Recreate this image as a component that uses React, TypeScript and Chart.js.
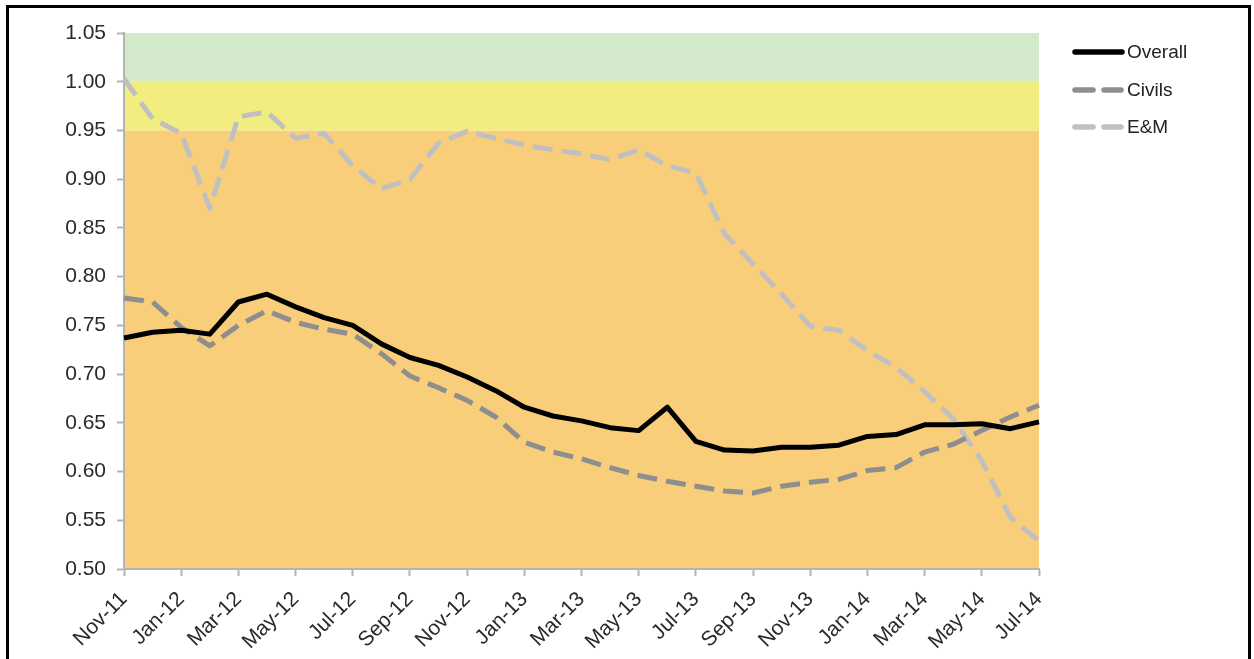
import React, { useEffect, useRef } from 'react';
import { Chart, registerables } from 'chart.js';

Chart.register(...registerables);

const months = [
  'Nov-11', 'Dec-11', 'Jan-12', 'Feb-12', 'Mar-12', 'Apr-12', 'May-12', 'Jun-12', 'Jul-12', 'Aug-12', 'Sep-12',
  'Oct-12', 'Nov-12', 'Dec-12', 'Jan-13', 'Feb-13', 'Mar-13', 'Apr-13', 'May-13', 'Jun-13', 'Jul-13', 'Aug-13',
  'Sep-13', 'Oct-13', 'Nov-13', 'Dec-13', 'Jan-14', 'Feb-14', 'Mar-14', 'Apr-14', 'May-14', 'Jun-14', 'Jul-14',
];

const overall = [
  0.737, 0.743, 0.745, 0.741, 0.774, 0.782, 0.769, 0.758, 0.750, 0.731, 0.717,
  0.709, 0.697, 0.683, 0.666, 0.657, 0.652, 0.645, 0.642, 0.666, 0.631, 0.622,
  0.621, 0.625, 0.625, 0.627, 0.636, 0.638, 0.648, 0.648, 0.649, 0.644, 0.651,
];

const civils = [
  0.778, 0.774, 0.748, 0.729, 0.750, 0.765, 0.753, 0.746, 0.741, 0.721, 0.698,
  0.686, 0.673, 0.656, 0.630, 0.620, 0.613, 0.604, 0.596, 0.590, 0.585, 0.580,
  0.578, 0.585, 0.589, 0.592, 0.601, 0.604, 0.620, 0.628, 0.642, 0.656, 0.668,
];

const em = [
  1.003, 0.962, 0.947, 0.870, 0.964, 0.969, 0.942, 0.947, 0.914, 0.890, 0.900,
  0.937, 0.949, 0.942, 0.935, 0.930, 0.926, 0.920, 0.930, 0.914, 0.906, 0.844,
  0.813, 0.782, 0.749, 0.745, 0.724, 0.707, 0.682, 0.654, 0.611, 0.553, 0.529,
];

const seriesNames = ['Overall', 'Civils', 'E&M'];
const seriesColors = ['#000000', '#8e8e8e', '#c0c0c0'];
const seriesDashes: number[][] = [[], [20, 9], [20, 9]];

const bandFrom = [0.5, 0.95, 1.0];
const bandTo = [0.95, 1.0, 1.05];
const bandColors = ['#f8ce7b', '#f2ed7f', '#d3e9cb'];

const yMin = 0.5;
const yMax = 1.05;
const yStep = 0.05;

const FONT = '"Liberation Sans", Arial, Helvetica, sans-serif';

const bandPlugin = {
  id: 'bands',
  beforeDraw(chart: any) {
    const { ctx, chartArea, scales } = chart;
    const y = scales.y;
    ctx.save();
    for (let i = 0; i < bandFrom.length; i++) {
      const top = y.getPixelForValue(bandTo[i]);
      const bottom = y.getPixelForValue(bandFrom[i]);
      ctx.fillStyle = bandColors[i];
      ctx.fillRect(chartArea.left, top, chartArea.right - chartArea.left, bottom - top);
    }
    ctx.restore();
  },
};

const legendPlugin = {
  id: 'customLegend',
  afterDraw(chart: any) {
    const { ctx } = chart;
    const x0 = 1073;
    const x1 = 1124;
    const ys = [52, 90, 127];
    ctx.save();
    for (let i = 0; i < seriesNames.length; i++) {
      const yy = ys[i];
      ctx.strokeStyle = seriesColors[i];
      ctx.lineWidth = 5.5;
      ctx.lineCap = 'round';
      if (i === 0) {
        ctx.beginPath();
        ctx.moveTo(x0 + 2, yy);
        ctx.lineTo(x1 - 2, yy);
        ctx.stroke();
      } else {
        ctx.beginPath();
        ctx.moveTo(x0 + 2, yy);
        ctx.lineTo(x0 + 20, yy);
        ctx.moveTo(x0 + 31, yy);
        ctx.lineTo(x0 + 48, yy);
        ctx.stroke();
      }
      ctx.fillStyle = '#222';
      ctx.font = `19px ${FONT}`;
      ctx.textAlign = 'left';
      ctx.textBaseline = 'middle';
      ctx.fillText(seriesNames[i], x1 + 3, yy + 1);
    }
    ctx.restore();
  },
};

export default function App() {
  const canvasRef = useRef<HTMLCanvasElement | null>(null);

  useEffect(() => {
    if (!canvasRef.current) return;
    const seriesData = [overall, civils, em];
    const chart = new Chart(canvasRef.current, {
      type: 'line',
      data: {
        labels: months,
        datasets: seriesNames.map((name, i) => ({
          label: name,
          data: seriesData[i],
          borderColor: seriesColors[i],
          backgroundColor: seriesColors[i],
          borderWidth: 5,
          borderDash: seriesDashes[i],
          borderCapStyle: 'butt',
          borderJoinStyle: 'round',
          pointRadius: 0,
          pointHoverRadius: 0,
          tension: 0,
          fill: false,
        })),
      },
      options: {
        responsive: false,
        animation: false,
        events: [],
        layout: { padding: { left: 0, top: 33, right: 215, bottom: 0 } },
        plugins: {
          legend: { display: false },
          tooltip: { enabled: false },
          title: { display: false },
        },
        scales: {
          x: {
            type: 'category',
            offset: false,
            grid: {
              display: true,
              drawOnChartArea: false,
              drawTicks: true,
              tickLength: 7,
              tickWidth: 2,
              tickColor: (c: any) => (c.index % 2 === 0 ? '#b4b4b4' : 'rgba(0,0,0,0)'),
            },
            border: { display: true, color: '#b4b4b4', width: 2 },
            ticks: {
              autoSkip: false,
              maxRotation: 45,
              minRotation: 45,
              padding: 11,
              color: '#2a2a2a',
              font: { family: FONT, size: 21 },
              callback: (_v: any, i: number) => (i % 2 === 0 ? months[i] : ''),
            },
            afterFit: (s: any) => {
              s.height = 90;
            },
          },
          y: {
            type: 'linear',
            min: yMin,
            max: yMax,
            grid: {
              display: true,
              drawOnChartArea: false,
              drawTicks: true,
              tickLength: 7,
              tickWidth: 2,
              tickColor: '#b4b4b4',
            },
            border: { display: true, color: '#b4b4b4', width: 2 },
            ticks: {
              stepSize: yStep,
              padding: 11,
              color: '#2a2a2a',
              font: { family: FONT, size: 21 },
              callback: (v: any) => Number(v).toFixed(2),
            },
            afterFit: (s: any) => {
              s.width = 124;
            },
          },
        },
      },
      plugins: [bandPlugin, legendPlugin],
    } as any);
    return () => chart.destroy();
  }, []);

  return (
    <div style={{ position: 'fixed', left: 0, top: 0, width: 1254, height: 659, overflow: 'hidden', background: '#fff' }}>
      <canvas ref={canvasRef} width={1254} height={659} style={{ display: 'block', position: 'absolute', left: 0, top: 0 }} />
      <div
        style={{
          position: 'absolute',
          left: 6,
          top: 5,
          width: 1245,
          height: 720,
          border: '3px solid #000',
          boxSizing: 'border-box',
          pointerEvents: 'none',
        }}
      />
    </div>
  );
}
